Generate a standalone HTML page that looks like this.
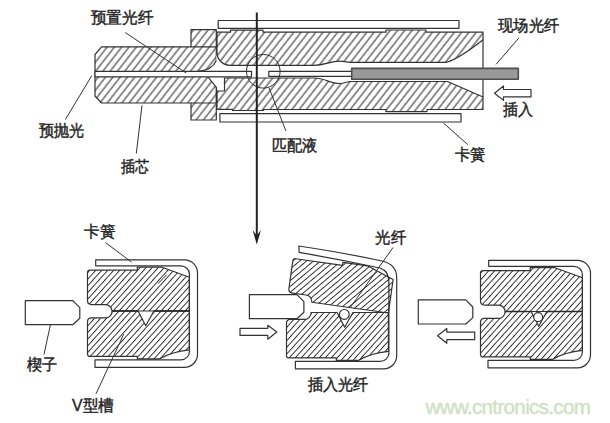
<!DOCTYPE html>
<html><head><meta charset="utf-8">
<style>
html,body{margin:0;padding:0;background:#fff;width:610px;height:423px;overflow:hidden;}
svg{display:block;position:absolute;left:0;top:0;}
text{font-family:"Liberation Sans",sans-serif;fill:#222;}
.t{font-size:16.2px;font-weight:500;stroke:#2a2a2a;stroke-width:0.45px;}
</style></head><body>
<svg width="610" height="423" viewBox="0 0 610 423">
<defs>
<pattern id="hT" patternUnits="userSpaceOnUse" width="20" height="5.75" patternTransform="translate(1.5 0) rotate(-52)">
<rect x="0" y="2.45" width="20" height="1" fill="#222"/>
</pattern>
<pattern id="hB" patternUnits="userSpaceOnUse" width="20" height="4.46" patternTransform="rotate(-48)">
<rect x="0" y="1.8" width="20" height="0.9" fill="#222"/>
</pattern>
</defs>

<g fill="none" stroke="#333" stroke-width="1.2" stroke-linejoin="round">
<!-- ===== TOP DIAGRAM ===== -->
<!-- ferrule + flange -->
<path fill="url(#hT)" d="M101.6 46.8 H191 V29.7 H216.3 V120 H191 V103 H101.5 L95 96 V54.5 Z"/>
<path d="M191 46.8 H216.3 M191 103 H216.3"/>
<!-- upper white fillet region -->
<path fill="#fff" stroke="none" d="M216.3 52.7 A13 12.8 0 0 0 230 65.5 V71.3 H197.5 Q212 70.5 216.3 60.5 Z"/>
<path d="M216.3 60.5 Q212 70.5 197.5 71.3"/>
<!-- ferrule lower chamfer gap -->
<path fill="#fff" stroke="none" d="M208 76.5 H224.5 V91 H216.8 V87.7 Z"/>
<!-- body upper -->
<path fill="url(#hT)" d="M217 32.2 H230.5 V30.1 H263 V32.2 H386 V30 H426 V32.2 H483 V39.7 Q460 58 446.6 62.3 H350 C347 62.3 345 61.2 339.6 61.2 C330 61.2 325 65.3 314 65.3 H230 A13 12.8 0 0 1 217 52.5 Z"/>
<!-- body lower -->
<path fill="url(#hT)" d="M217 91 H224.5 V78 H314 C325 78 330 83.5 339.6 83.5 C345 83.5 347 81.5 350 81.5 H447.6 L483 97 V109.5 H427 V111.6 H386 V109.5 H263.5 V110.5 H232.6 V109.4 H217 Z"/>
<path d="M208 77 L216.5 87.7 V103"/>
<line x1="483" y1="39.7" x2="483" y2="97"/>
<!-- preset fiber -->
<rect x="95" y="71.3" width="156.5" height="5.5" fill="#fff"/>
<!-- bare field fiber -->
<rect x="268.8" y="71.3" width="82.9" height="5" fill="#fff"/>
<!-- coated field fiber -->
<rect x="351.7" y="68.4" width="166.6" height="10.9" fill="#999" stroke="#4e4e4e" stroke-width="1.6"/>
<!-- springs -->
<rect x="218.2" y="20.5" width="240.8" height="7.8" fill="#fff"/>
<rect x="219.9" y="113.6" width="241.1" height="8.4" fill="#fff"/>
<!-- circle -->
<circle cx="263.3" cy="71.3" r="16.8" stroke-width="1"/>
<!-- leaders -->
<path stroke-width="1" d="M125.2 32.5 L186.2 73 M65.4 119.5 L91.8 75.6 M136.3 153.5 L142 105.3 M269 87.8 L285.9 131 M443.4 123 L467.9 144.7 M496 64.4 L519 37.8"/>
<!-- insert arrow -->
<path fill="#fff" d="M494.5 93.3 L503.5 86 V89.5 H531 V96.9 H503.5 V100.4 Z"/>
</g>
<!-- vertical arrow -->
<line x1="256.8" y1="12.5" x2="256.8" y2="236" stroke="#222" stroke-width="2"/>
<path fill="#222" d="M252.6 230 L256.8 244.5 L261 230 L256.8 235.5 Z"/>

<!-- ===== BOTTOM DIAGRAMS ===== -->
<defs>
<path id="spr" d="M95.7 259.8 H184.5 A13 13 0 0 1 197.5 272.8 V354.3 A13 13 0 0 1 184.5 367.3 H95 V359.9 H180.9 A8.5 8.5 0 0 0 189.4 351.4 V274.3 A8.5 8.5 0 0 0 180.9 265.8 H95.7 Z"/>
<path id="ub" d="M87.5 272.7 Q87.5 270.2 90 270.2 H137.3 V267.2 H162 L189.4 277.2 V311 H112.1 A6.6 6.6 0 0 0 105.45 304.6 H91.5 Q87.5 304.6 87.5 300.6 Z"/>
<path id="lb" d="M112.1 311 H138.1 L145.7 325.8 L153.9 311 H189.4 V349.8 Q172 351.5 159.4 358.9 H137.3 V356.4 H90 Q87.5 356.4 87.5 353.9 V321.9 Q87.5 317.9 91.5 317.9 H105.45 A6.6 6.6 0 0 0 112.1 311 Z"/>
<path id="wg" d="M25.3 300.6 H72.8 L79.8 307.7 V318.3 L72.8 324.7 H25.3 Z"/>
</defs>
<g fill="none" stroke="#333" stroke-width="1.2" stroke-linejoin="round">
<!-- L -->
<use href="#spr" fill="#fff"/>
<use href="#ub" fill="url(#hB)"/>
<use href="#lb" fill="url(#hB)"/>
<use href="#wg" fill="#fff"/>
<path stroke-width="1.7" stroke="#2a2a2a" d="M112.6 311 H138.1 M153.9 311 H189"/>
<path stroke-width="1" d="M158 283.7 L166.7 274.7 M105.4 242.5 L131.6 262.2 M44 354.5 L50.4 324.7 M96 393.8 L123.7 334.3"/>
<!-- R -->
<g transform="translate(393 0.5)">
<use href="#spr" fill="#fff"/>
<use href="#ub" fill="url(#hB)"/>
<use href="#lb" fill="url(#hB)"/>
<path stroke-width="1.7" stroke="#2a2a2a" d="M112.6 311 H138.1 M153.9 311 H189"/>
</g>
<use href="#wg" fill="#fff" transform="translate(393 -0.7)"/>
<circle cx="538.2" cy="317.1" r="4.5" fill="#fff"/>
<path fill="#fff" d="M437.6 335.8 L446.8 328.5 V332.1 H474.7 V339.6 H446.8 V343.3 Z"/>
<!-- M -->
<path fill="#fff" d="M298.8 246 Q345 253 382 261 Q396.7 264.5 396.7 277.5 V355.8 A13 13 0 0 1 383.7 368.8 H295.4 V361.4 H380.4 A8.5 8.5 0 0 0 388.9 352.9 V282 Q388.9 271 380 268 Q340 259.5 299.2 252.4 Z"/>
<use href="#lb" fill="url(#hB)" transform="translate(199 1.5)"/>
<use href="#ub" fill="url(#hB)" transform="translate(199 2) rotate(8 189.4 311)"/>
<use href="#wg" fill="#fff" transform="translate(224.1 -6)"/>
<circle cx="344.3" cy="314.4" r="4.9" fill="#fff"/>
<path fill="#fff" d="M276.8 332 L267.8 325.3 V328.3 H240 V335.4 H267.8 V339.2 Z"/>
<path stroke-width="1" d="M393 247.5 L350 307.9"/>
</g>

<!-- labels -->
<g class="t">
<text x="90.5" y="23.3" textLength="62.8" lengthAdjust="spacingAndGlyphs">预置光纤</text>
<text x="498.0" y="31.4" textLength="61.2" lengthAdjust="spacingAndGlyphs">现场光纤</text>
<text x="502.7" y="115.2" textLength="30" lengthAdjust="spacingAndGlyphs">插入</text>
<text x="38.5" y="136" textLength="45.3" lengthAdjust="spacingAndGlyphs">预抛光</text>
<text x="120.7" y="172" textLength="28.5" lengthAdjust="spacingAndGlyphs">插芯</text>
<text x="271.5" y="151.2" textLength="45.5" lengthAdjust="spacingAndGlyphs">匹配液</text>
<text x="454.6" y="159.5" textLength="30.7" lengthAdjust="spacingAndGlyphs">卡簧</text>
<text x="84.2" y="237.3" textLength="31" lengthAdjust="spacingAndGlyphs">卡簧</text>
<text x="26.9" y="370" textLength="30.5" lengthAdjust="spacingAndGlyphs">楔子</text>
<text x="72" y="411" textLength="41.8" lengthAdjust="spacingAndGlyphs">V型槽</text>
<text x="375.2" y="243.2" textLength="31" lengthAdjust="spacingAndGlyphs">光纤</text>
<text x="307.7" y="389.5" textLength="60.8" lengthAdjust="spacingAndGlyphs">插入光纤</text>
</g>
<text x="425.5" y="413.8" style="font-size:20.6px;letter-spacing:-0.68px;fill:#cde0c2;stroke:#d3e4c9;stroke-width:0.5px">www.cntronics.com</text>
</svg>
</body></html>
